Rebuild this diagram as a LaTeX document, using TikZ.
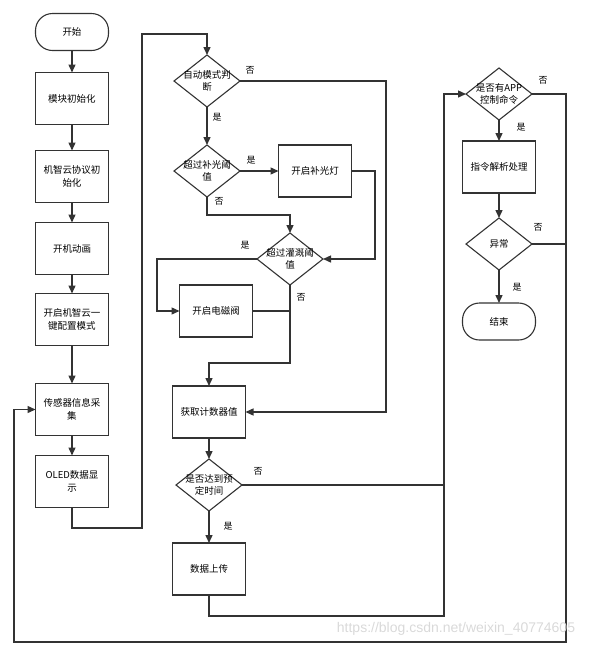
\documentclass[tikz,border=0pt]{standalone}
\usepackage{fontspec}
\setmainfont{Noto Sans CJK SC}
\newfontfamily\markfont{Liberation Sans}
\usetikzlibrary{shapes.geometric, arrows.meta, positioning}
\definecolor{flowline}{HTML}{333333}

\begin{document}
\begin{tikzpicture}[
        x=1pt, y=-1pt,
        font=\fontsize{9.5}{12.5}\selectfont,
        terminal/.style={rectangle, draw=flowline, line width=1.1pt, outer sep=0pt, rounded corners=17pt, minimum width=73pt, minimum height=37pt, inner sep=0pt},
        process/.style={rectangle, draw=flowline, line width=1.1pt, outer sep=0pt, minimum width=73pt, minimum height=52pt, inner sep=0pt, align=center},
        decision/.style={diamond, draw=flowline, line width=1.1pt, outer sep=0pt, minimum width=66pt, minimum height=52pt, inner sep=0pt, label={[align=center]center:#1}},
        line/.style={draw=flowline, line width=1.4pt},
        flow/.style={line, -{Triangle[length=8pt, width=7pt]}},
        tag/.style={font=\fontsize{9}{11}\selectfont}
    ]
        \useasboundingbox (0,0) rectangle (602,649);

        % Start-up column
        \node[terminal] (start) at (72,32) {开始};
        \node[process, below=22pt of start] (init) {模块初始化};
        \node[process, below=26pt of init] (proto) {机智云协议初\\始化};
        \node[process, below=20pt of proto] (anim) {开机动画};
        \node[process, below=19pt of anim] (config) {开启机智云一\\键配置模式};
        \node[process, below=38pt of config] (sensor) {传感器信息采\\集};
        \node[process, below=20pt of sensor] (oled) {OLED数据显\\示};

        \draw[flow] (start) -- (init);
        \draw[flow] (init) -- (proto);
        \draw[flow] (proto) -- (anim);
        \draw[flow] (anim) -- (config);
        \draw[flow] (config) -- (sensor);
        \draw[flow] (sensor) -- (oled);

        % Automatic control
        \node[decision={自动模式判\\断}] (auto) at (207,81) {};
        \node[decision={超过补光阈\\值}, below=38pt of auto] (light) {};
        \node[process, right=38.5pt of light] (lamp) {开启补光灯};
        \node[decision={超过灌溉阈\\值}] (water) at (290,259) {};
        \node[process] (valve) at (216,311) {开启电磁阀};
        \node[process] (counter) at (209,412) {获取计数器值};
        \node[decision={是否达到预\\定时间}, below=21pt of counter] (time) {};
        \node[process, below=32pt of time] (upload) {数据上传};

        \coordinate (oledturn) at (142,528);
        \coordinate (oledtop) at (142,34);
        \coordinate (autono) at (386,240);
        \coordinate (lampturn) at (375,200);
        \coordinate (lightno) at (250,215);
        \coordinate (waterturn) at (157,285);
        \coordinate (waterno) at (290,363);

        \draw[flow] (oled.south) |- (oledturn) -- (oledtop) -| (auto.north);
        \draw[flow] (auto.east) -| (autono) |- (counter.east);
        \draw[flow] (auto) -- (light);
        \draw[flow] (light) -- (lamp);
        \draw[flow] (lamp.east) -| (lampturn) |- (water.east);
        \draw[flow] (light.south) |- (lightno) -| (water.north);
        \draw[flow] (water.west) -| (waterturn) |- (valve.west);
        \draw[flow] (water.south) -- (waterno) -| (counter.north);
        \draw[line] (valve.east) -- (valve.east -| waterno);
        \draw[flow] (counter) -- (time);
        \draw[flow] (time) -- (upload);

        \node[tag] (autonolbl) at (250,70) {否};
        \node[tag] (autoyeslbl) at (217,117) {是};
        \node[tag] (lightyeslbl) at (251,160) {是};
        \node[tag] (lightnolbl) at (219,201) {否};
        \node[tag] (wateryeslbl) at (245,245) {是};
        \node[tag] (waternolbl) at (301,297) {否};
        \node[tag] (timenolbl) at (258,471) {否};
        \node[tag] (timeyeslbl) at (228,526) {是};

        % APP commands
        \node[decision={是否有APP\\控制命令}] (app) at (499,94) {};
        \node[process, below=21pt of app] (parse) {指令解析处理};
        \node[decision=异常, below=25pt of parse] (abn) {};
        \node[terminal, below=33pt of abn] (stop) {结束};

        \coordinate (backbot) at (444,616);
        \coordinate (backtop) at (444,94);
        \coordinate (retright) at (566,642);
        \coordinate (retleft) at (14,642);

        \draw[line] (time.east) -- (time.east -| backbot);
        \draw[flow] (upload.south) |- (backbot) -- (backtop) -- (app.west);
        \draw[flow] (app) -- (parse);
        \draw[flow] (parse) -- (abn);
        \draw[flow] (abn) -- (stop);
        \draw[flow] (app.east) -| (retright) -- (retleft) |- (sensor.west);
        \draw[line] (abn.east) -- (abn.east -| retright);

        \node[tag] (appnolbl) at (543,80) {否};
        \node[tag] (appyeslbl) at (521,127) {是};
        \node[tag] (abnnolbl) at (538,227) {否};
        \node[tag] (abnyeslbl) at (517,287) {是};

        % watermark
        \node[text=gray!30, font=\markfont\fontsize{14}{16}\selectfont] (mark) at (456,629) {https://blog.csdn.net/weixin\_40774605};
    \end{tikzpicture}
\end{document}
